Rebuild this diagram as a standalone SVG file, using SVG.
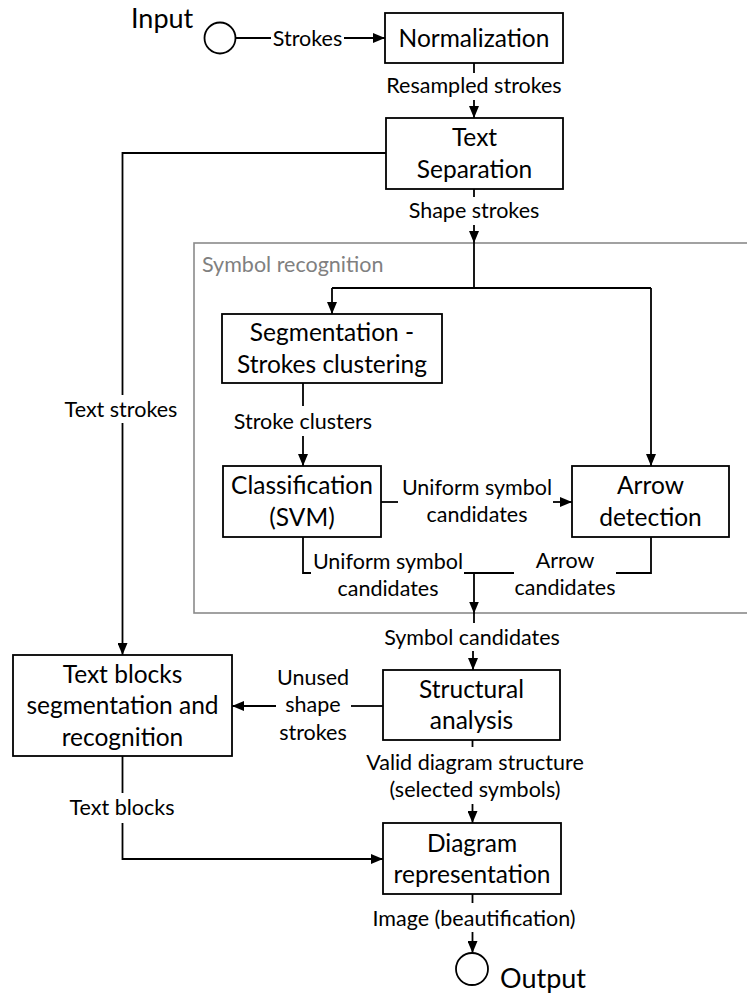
<svg xmlns="http://www.w3.org/2000/svg" width="747" height="996" viewBox="0 0 747 996">
  <style>
    .box { fill: #fff; stroke: #000; stroke-width: 1.8; }
    .node { font-family: Lato, "Liberation Sans", sans-serif; font-size: 24.5px; fill: #000; text-anchor: middle; }
    .lbl { font-family: Lato, "Liberation Sans", sans-serif; font-size: 21.5px; fill: #000; text-anchor: middle; }
    .io { font-family: Lato, "Liberation Sans", sans-serif; font-size: 27px; fill: #000; }
    .grp { fill: none; stroke: #8a8a8a; stroke-width: 1.6; }
    .grplbl { font-family: Lato, "Liberation Sans", sans-serif; font-size: 21.5px; fill: #808080; }
    .wire { fill: none; stroke: #000; stroke-width: 1.8; }
    .arr { marker-end: url(#head); }
  </style>
  <defs>
    <marker id="head" markerUnits="userSpaceOnUse" markerWidth="12" markerHeight="10" refX="12" refY="5" orient="auto">
      <path d="M0,0 L12,5 L0,10 z" fill="#000"/>
    </marker>
  </defs>

  <!-- symbol recognition container -->
  <g id="symbol-recognition">
    <rect class="grp" x="194" y="243" width="554" height="370"/>
    <text class="grplbl" x="202" y="272">Symbol recognition</text>
  </g>

  <!-- connectors -->
  <g id="connectors">
    <path class="wire" d="M235.5 38 H271"/>
    <path class="wire arr" d="M344 38 H385"/>
    <text class="lbl" x="307.5" y="45.5">Strokes</text>

    <path class="wire" d="M474 63 V73"/>
    <text class="lbl" x="474" y="93">Resampled strokes</text>
    <path class="wire arr" d="M474 100 V118"/>

    <path class="wire" d="M386 153 H122.5 V395"/>
    <text class="lbl" x="121" y="417">Text strokes</text>
    <path class="wire arr" d="M122.5 423 V655"/>

    <path class="wire" d="M474 189 V197"/>
    <text class="lbl" x="474" y="218">Shape strokes</text>
    <path class="wire arr" d="M474 225 V243"/>

    <path class="wire" d="M474 243 V288 M332 288 H651"/>
    <path class="wire arr" d="M332 288 V314"/>
    <path class="wire arr" d="M651 288 V466"/>

    <path class="wire" d="M303 383 V406"/>
    <text class="lbl" x="303" y="429">Stroke clusters</text>
    <path class="wire arr" d="M303 436 V466"/>

    <path class="wire" d="M381 502 H398"/>
    <text class="lbl" x="477" y="495">Uniform symbol</text>
    <text class="lbl" x="477" y="522">candidates</text>
    <path class="wire arr" d="M553 502 H572"/>

    <path class="wire" d="M303 537 V573 H311"/>
    <text class="lbl" x="388" y="569">Uniform symbol</text>
    <text class="lbl" x="388" y="596">candidates</text>
    <path class="wire" d="M464 573 H514"/>
    <path class="wire" d="M651 537 V573 H616"/>
    <text class="lbl" x="565" y="568">Arrow</text>
    <text class="lbl" x="565" y="595">candidates</text>
    <path class="wire arr" d="M474 573 V613.5"/>
    <path class="wire" d="M474 613 V623"/>
    <text class="lbl" x="472" y="645">Symbol candidates</text>
    <path class="wire arr" d="M473 651 V670"/>

    <path class="wire" d="M383 706 H351"/>
    <text class="lbl" x="313" y="685">Unused</text>
    <text class="lbl" x="313" y="712">shape</text>
    <text class="lbl" x="313" y="740">strokes</text>
    <path class="wire arr" d="M276 706 H232"/>

    <path class="wire" d="M472.5 740 V747"/>
    <text class="lbl" x="475" y="770">Valid diagram structure</text>
    <text class="lbl" x="475" y="797">(selected symbols)</text>
    <path class="wire arr" d="M472.5 804 V823"/>

    <path class="wire" d="M122.5 756 V793"/>
    <text class="lbl" x="122" y="815">Text blocks</text>
    <path class="wire arr" d="M122.5 823 V859 H383"/>

    <path class="wire" d="M472.5 894 V903"/>
    <text class="lbl" x="474" y="926">Image (beautification)</text>
    <path class="wire arr" d="M472.5 932 V953"/>
  </g>

  <g id="input">
    <circle class="box" cx="220" cy="38" r="15.5"/>
    <text class="io" x="131" y="28">Input</text>
  </g>

  <g id="normalization">
    <rect class="box" x="385" y="13" width="178" height="50"/>
    <text class="node" x="474" y="46.5">Normalization</text>
  </g>

  <g id="text-separation">
    <rect class="box" x="386" y="118" width="177" height="71"/>
    <text class="node" x="474.5" y="146">Text</text>
    <text class="node" x="474.5" y="178">Separation</text>
  </g>

  <g id="segmentation">
    <rect class="box" x="222" y="314" width="220" height="69"/>
    <text class="node" x="332" y="341">Segmentation -</text>
    <text class="node" x="332" y="373">Strokes clustering</text>
  </g>

  <g id="classification">
    <rect class="box" x="223" y="466" width="158" height="71"/>
    <text class="node" x="302" y="494">Classification</text>
    <text class="node" x="302" y="525.5">(SVM)</text>
  </g>

  <g id="arrow-detection">
    <rect class="box" x="572" y="466" width="157" height="71"/>
    <text class="node" x="650.5" y="494">Arrow</text>
    <text class="node" x="650.5" y="525.5">detection</text>
  </g>

  <g id="text-blocks">
    <rect class="box" x="13" y="655" width="219" height="101"/>
    <text class="node" x="122.5" y="682.5">Text blocks</text>
    <text class="node" x="122.5" y="714">segmentation and</text>
    <text class="node" x="122.5" y="745.5">recognition</text>
  </g>

  <g id="structural-analysis">
    <rect class="box" x="383" y="670" width="177" height="70"/>
    <text class="node" x="471.5" y="698">Structural</text>
    <text class="node" x="471.5" y="729">analysis</text>
  </g>

  <g id="diagram-representation">
    <rect class="box" x="383" y="823" width="178" height="71"/>
    <text class="node" x="472" y="851.5">Diagram</text>
    <text class="node" x="472" y="882.5">representation</text>
  </g>

  <g id="output">
    <circle class="box" cx="472" cy="969" r="16"/>
    <text class="io" x="500" y="988">Output</text>
  </g>
</svg>
